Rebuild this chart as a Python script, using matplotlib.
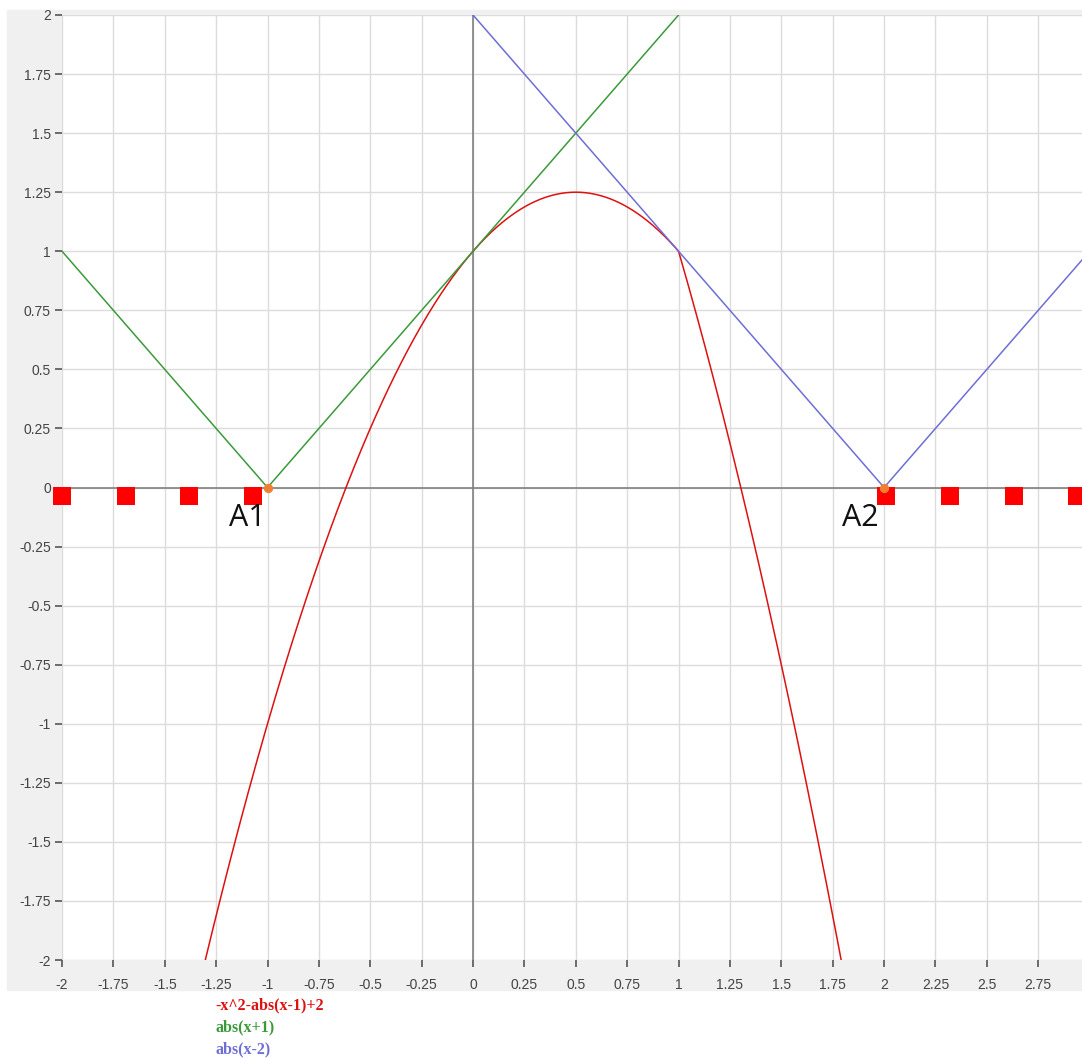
import numpy as np
import matplotlib.pyplot as plt
from matplotlib.patches import Rectangle

# curves as given in the legend
labels = ["-x^2-abs(x-1)+2", "abs(x+1)", "abs(x-2)"]
colors = ["#dd1111", "#3a9a3a", "#6e6ed6"]
x_ranges = [(-1.35, 1.85), (-2.0, 1.0), (0.0, 2.97)]

# points where the curves touch zero
pts_x = [-1.0, 2.0]
pts_y = [0.0, 0.0]
pt_names = ["A1", "A2"]
name_x = [-1.10, 1.885]
name_y = [-0.13, -0.13]

# red squares marking the solution set
sq_x = [-2.0, -1.69, -1.38, -1.07, 2.01, 2.32, 2.63, 2.94]
sq_y = [-0.034] * 8

ticks = np.arange(-2, 3.0, 0.25)
yticks = np.arange(-2, 2.01, 0.25)


def fmt(v):
    s = f"{v:g}"
    return s


def f(i, x):
    if i == 0:
        return -x**2 - np.abs(x - 1) + 2
    if i == 1:
        return np.abs(x + 1)
    return np.abs(x - 2)


fig = plt.figure(figsize=(10.82, 10.58), dpi=100)
bg = Rectangle((7 / 1082, 68 / 1058), 1, 980 / 1058,
               transform=fig.transFigure, color="#f0f0f0", zorder=-10)
fig.add_artist(bg)

ax = fig.add_axes([62 / 1082, 98 / 1058, 1020 / 1082, 945 / 1058])
ax.set_zorder(1)
ax.set_xlim(-2, 2.963)
ax.set_ylim(-2, 2)

for v in ticks:
    ax.axvline(v, color="#dcdcdc", lw=1, zorder=1)
for v in yticks:
    ax.axhline(v, color="#dcdcdc", lw=1, zorder=1)
ax.axhline(0, color="#808080", lw=1.2, zorder=2)
ax.axvline(0, color="#808080", lw=1.2, zorder=2)

for i in range(3):
    xs = np.linspace(x_ranges[i][0], x_ranges[i][1], 600)
    ax.plot(xs, f(i, xs), color=colors[i], lw=1.1, zorder=3)

ax.scatter(sq_x, sq_y, marker="s", s=150, color="#ff0000", zorder=4, clip_on=False,
           linewidths=0)
ax.scatter(pts_x, pts_y, s=32, color="#f08030", zorder=5)
for nx, ny, nm in zip(name_x, name_y, pt_names):
    ax.text(nx, ny, nm, fontsize=22, family="Open Sans", ha="center", va="center",
            color="#111111", zorder=6)

ax.set_xticks(ticks)
ax.set_xticklabels([fmt(v) for v in ticks])
ax.set_yticks(yticks)
ax.set_yticklabels([fmt(v) for v in yticks])
ax.tick_params(labelsize=10, labelcolor="#444444", color="#555555", length=5,
               width=1.2, pad=3)
ax.tick_params(axis="x", pad=8)
for lab in ax.get_xticklabels() + ax.get_yticklabels():
    lab.set_family("Liberation Sans")
for s in ax.spines.values():
    s.set_visible(False)

for k in range(3):
    fig.text(215 / 1082, 1 - (1005 + 22 * k) / 1058, labels[k], color=colors[k],
             fontsize=11.5, family="Liberation Serif", weight="bold", va="center")

fig.savefig("out.png", dpi=100)
